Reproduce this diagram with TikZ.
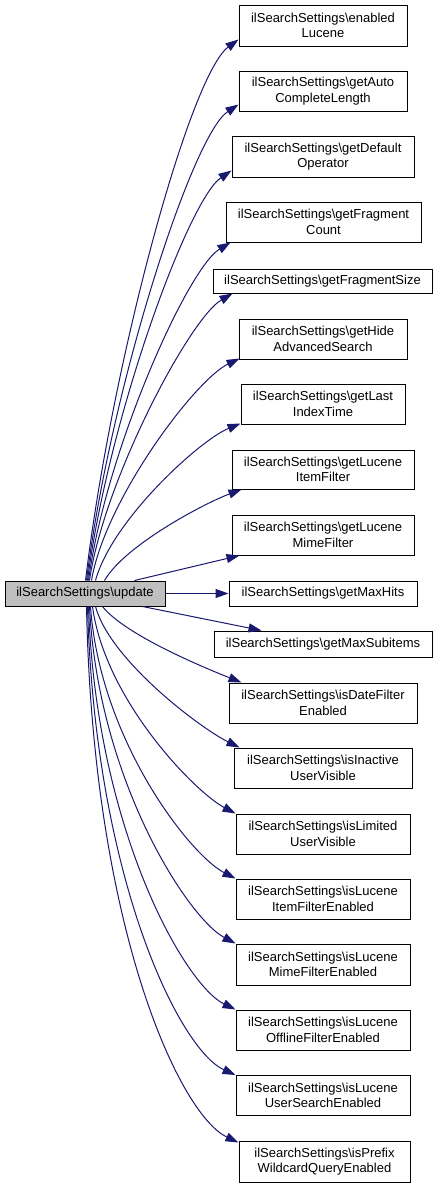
\documentclass[tikz,border=0pt]{standalone}
\usepackage{fontspec}
\setmainfont{Liberation Sans}
\usetikzlibrary{arrows.meta,calc}
\definecolor{edgeblue}{RGB}{25,25,112}
\definecolor{srcgray}{RGB}{191,191,191}
\begin{document}
\begin{tikzpicture}[x=1pt,y=-1pt,
  box/.style={draw=black,line width=1pt,fill=white,inner sep=0pt,align=center,
    font=\fontsize{13}{15.5}\selectfont},
  srcbox/.style={box,fill=srcgray},
  edge/.style={draw=edgeblue,line width=1pt,-{Triangle[length=13pt,width=9pt]}}]
\useasboundingbox (0,0) rectangle (439,1187);
\fill[white] (0,0) rectangle (439,1187);
\node[srcbox,minimum width=160pt,minimum height=25pt] (src) at (85,593.5) {ilSearchSettings\textbackslash update};
\node[box,minimum width=168pt,minimum height=41pt] (t1) at (323,25.5) {ilSearchSettings\textbackslash enabled\\Lucene};
\node[box,minimum width=168pt,minimum height=40pt] (t2) at (323,91) {ilSearchSettings\textbackslash getAuto\\CompleteLength};
\node[box,minimum width=182pt,minimum height=41pt] (t3) at (323,156.5) {ilSearchSettings\textbackslash getDefault\\Operator};
\node[box,minimum width=195pt,minimum height=40pt] (t4) at (323.5,222) {ilSearchSettings\textbackslash getFragment\\Count};
\node[box,minimum width=219pt,minimum height=24pt] (t5) at (322.5,281) {ilSearchSettings\textbackslash getFragmentSize};
\node[box,minimum width=168pt,minimum height=40pt] (t6) at (323,339) {ilSearchSettings\textbackslash getHide\\AdvancedSearch};
\node[box,minimum width=164pt,minimum height=40pt] (t7) at (323,404) {ilSearchSettings\textbackslash getLast\\IndexTime};
\node[box,minimum width=182pt,minimum height=39pt] (t8) at (323,469.5) {ilSearchSettings\textbackslash getLucene\\ItemFilter};
\node[box,minimum width=182pt,minimum height=40pt] (t9) at (323,535) {ilSearchSettings\textbackslash getLucene\\MimeFilter};
\node[box,minimum width=188pt,minimum height=25pt] (t10) at (323,593.5) {ilSearchSettings\textbackslash getMaxHits};
\node[box,minimum width=218pt,minimum height=26pt] (t11) at (323,644) {ilSearchSettings\textbackslash getMaxSubitems};
\node[box,minimum width=188pt,minimum height=40pt] (t12) at (323,703) {ilSearchSettings\textbackslash isDateFilter\\Enabled};
\node[box,minimum width=178pt,minimum height=40pt] (t13) at (323,768) {ilSearchSettings\textbackslash isInactive\\UserVisible};
\node[box,minimum width=174pt,minimum height=40pt] (t14) at (323,834) {ilSearchSettings\textbackslash isLimited\\UserVisible};
\node[box,minimum width=174pt,minimum height=40pt] (t15) at (323,899) {ilSearchSettings\textbackslash isLucene\\ItemFilterEnabled};
\node[box,minimum width=174pt,minimum height=41pt] (t16) at (323,964.5) {ilSearchSettings\textbackslash isLucene\\MimeFilterEnabled};
\node[box,minimum width=174pt,minimum height=40pt] (t17) at (323,1030) {ilSearchSettings\textbackslash isLucene\\OfflineFilterEnabled};
\node[box,minimum width=174pt,minimum height=40pt] (t18) at (323,1095.5) {ilSearchSettings\textbackslash isLucene\\UserSearchEnabled};
\node[box,minimum width=171pt,minimum height=41pt] (t19) at (324.5,1161.5) {ilSearchSettings\textbackslash isPrefix\\WildcardQueryEnabled};
% upper edges
\draw[edge] ($(src.north west)+(81,0)$) .. controls (112,360) and (190,75) .. ($(t1.south west)+(0,-7)$);
\draw[edge] ($(src.north west)+(82,0)$) .. controls (110,390) and (192,135) .. ($(t2.south west)+(0,-7)$);
\draw[edge] ($(src.north west)+(83,0)$) .. controls (108,420) and (188,200) .. ($(t3.south west)+(0,-7)$);
\draw[edge] ($(src.north west)+(84,0)$) .. controls (106,450) and (188,268) .. ($(t4.south west)+(5,0)$);
\draw[edge] ($(src.north west)+(85,0)$) .. controls (104,480) and (190,318) .. ($(t5.south west)+(20,0)$);
\draw[edge] ($(src.north west)+(87,0)$) .. controls (105,500) and (195,380) .. ($(t6.south west)+(1,-1)$);
\draw[edge] ($(src.north west)+(91,0)$) .. controls (112,520) and (200,440) .. ($(t7.south west)+(0,-1)$);
\draw[edge] ($(src.north west)+(100,0)$) .. controls (125,545) and (205,503) .. ($(t8.south west)+(10,0)$);
\draw[edge] ($(src.north west)+(130,0)$) -- ($(t9.south west)+(8,0)$);
% middle
\draw[edge] (src.east) -- (t10.west);
\draw[edge] ($(src.south west)+(138,0)$) -- ($(t11.north west)+(48,0)$);
% lower edges
\draw[edge] ($(src.south west)+(98,0)$) .. controls (125,635) and (205,668) .. ($(t12.north west)+(13,0)$);
\draw[edge] ($(src.south west)+(91,0)$) .. controls (110,660) and (200,728) .. ($(t13.north west)+(6,0)$);
\draw[edge] ($(src.south west)+(88,0)$) .. controls (105,700) and (195,792) .. (t14.north west);
\draw[edge] ($(src.south west)+(86,0)$) .. controls (100,740) and (190,855) .. (t15.north west);
\draw[edge] ($(src.south west)+(85,0)$) .. controls (98,780) and (188,918) .. (t16.north west);
\draw[edge] ($(src.south west)+(84,0)$) .. controls (96,830) and (185,985) .. (t17.north west);
\draw[edge] ($(src.south west)+(83,0)$) .. controls (95,880) and (180,1050) .. (t18.north west);
\draw[edge] ($(src.south west)+(82,0)$) .. controls (93,930) and (180,1115) .. ($(t19.north west)+(0,2)$);
\end{tikzpicture}
\end{document}
